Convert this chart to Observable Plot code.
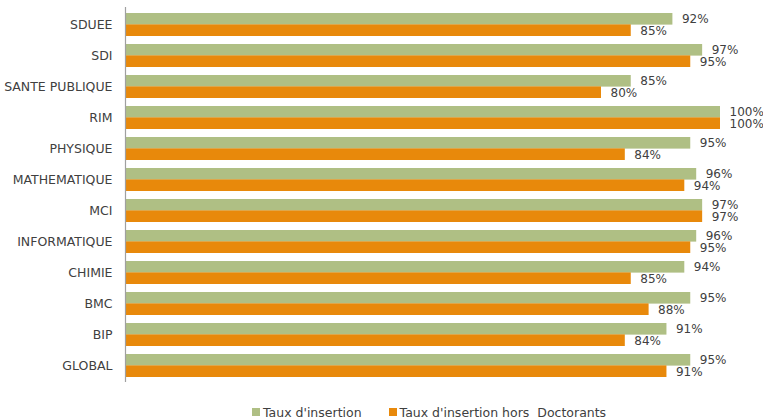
<!DOCTYPE html>
<html><head><meta charset="utf-8">
<script src="https://cdn.jsdelivr.net/npm/d3@7"></script>
<script src="https://cdn.jsdelivr.net/npm/@observablehq/plot@0.6"></script>
<style>
body{margin:0;background:#fff;font-family:"DejaVu Sans",sans-serif;overflow:hidden;}
#legend{height:14px;margin-top:13px;display:flex;justify-content:flex-start;align-items:center;font-size:12.5px;color:#404040;padding-left:252px;}
.item{display:flex;align-items:center;margin-right:27px;}
.sw{width:8px;height:8px;margin-right:3px;}
</style></head>
<body><div id="chart"></div><div id="legend"></div>
<script>
const categories = ["SDUEE","SDI","SANTE PUBLIQUE","RIM","PHYSIQUE","MATHEMATIQUE","MCI","INFORMATIQUE","CHIMIE","BMC","BIP","GLOBAL"];
const tauxInsertion = [92,97,85,100,95,96,97,96,94,95,91,95];
const tauxHorsDoctorants = [85,95,80,100,84,94,97,95,85,88,84,91];
const seriesNames = ["Taux d'insertion","Taux d'insertion hors  Doctorants"];
const colors = ["#afbf84","#e8890b"];

const green = categories.map((c,i)=>({cat:c, v:tauxInsertion[i]}));
const orange = categories.map((c,i)=>({cat:c, v:tauxHorsDoctorants[i]}));
const bw = 374.4/12*0.73/2;

const chart = Plot.plot({
  width: 763, height: 392,
  marginLeft: 125, marginRight: 43, marginTop: 7, marginBottom: 10,
  style: {fontFamily: '"DejaVu Sans", sans-serif', fontSize: "12.5px", color: "#404040", background: "#fff", overflow: "visible"},
  x: {domain: [0,100], axis: null},
  y: {domain: categories, paddingInner: 0.27, paddingOuter: 0.135, label: null, tickSize: 0, tickPadding: 13},
  marks: [
    Plot.barX(green, {x: "v", y: "cat", fill: colors[0], insetBottom: bw}),
    Plot.barX(orange, {x: "v", y: "cat", fill: colors[1], insetTop: bw}),
    Plot.text(green, {x: "v", y: "cat", text: d => d.v + "%", dx: 9, dy: -bw/2, textAnchor: "start", fill: "#404040", fontSize: 12}),
    Plot.text(orange, {x: "v", y: "cat", text: d => d.v + "%", dx: 9, dy: bw/2, textAnchor: "start", fill: "#404040", fontSize: 12}),
    Plot.ruleX([0], {stroke: "#a0a0a0", strokeWidth: 1.2})
  ]
});
document.getElementById("chart").appendChild(chart);
const lg = document.getElementById("legend");
seriesNames.forEach((n,i)=>{
  const it = document.createElement("div"); it.className="item";
  const sw = document.createElement("div"); sw.className="sw"; sw.style.background=colors[i];
  const t = document.createElement("span"); t.textContent = n; t.style.whiteSpace="pre";
  it.appendChild(sw); it.appendChild(t); lg.appendChild(it);
});
</script></body></html>
